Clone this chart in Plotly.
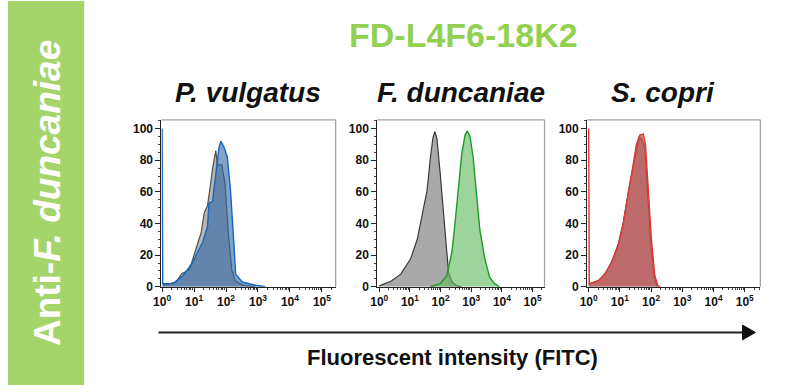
import plotly.graph_objects as go

# ---------------- data (x in log10 decades, y = % of max) ----------------
p1_ctrl_log = [0.03, 0.44, 0.60, 0.86, 1.06, 1.22, 1.32, 1.42, 1.53, 1.58, 1.68, 1.73, 1.87, 1.97, 2.07, 2.18, 2.28, 2.51, 2.92]
p1_ctrl_y   = [1, 3, 8, 11, 24, 34, 47, 51, 67, 75, 86, 77, 77, 65, 34, 11, 4, 1, 0]
p1_ab_log   = [0.0, 0.02, 0.34, 0.55, 0.65, 0.80, 0.96, 1.11, 1.27, 1.42, 1.47, 1.58, 1.68, 1.78, 1.84, 1.94, 2.04, 2.14, 2.25, 2.30, 2.51, 2.92, 3.23]
p1_ab_y     = [100, 2, 2, 5, 7, 11, 15.5, 22, 28, 38, 53, 54, 71, 88, 92, 88, 82, 61, 26, 8, 3, 1, 0]

p2_ctrl_log = [0.0, 0.38, 0.70, 1.02, 1.24, 1.40, 1.56, 1.67, 1.75, 1.81, 1.88, 1.99, 2.10, 2.18, 2.26, 2.37, 2.53, 2.69]
p2_ctrl_y   = [0.6, 3.5, 8, 17.5, 30, 45, 61, 82, 94, 98, 94, 71, 46, 24, 9, 3, 0.6, 0]
p2_ab_log   = [1.67, 1.99, 2.20, 2.37, 2.47, 2.58, 2.69, 2.80, 2.87, 2.96, 3.06, 3.17, 3.28, 3.44, 3.60, 3.76, 3.92]
p2_ab_y     = [0, 2, 7, 22, 40, 61, 84, 96, 98.5, 95, 82, 59, 36, 18, 6, 2, 0]

p3_ctrl_log = [0.0, 0.32, 0.53, 0.74, 0.95, 1.11, 1.27, 1.43, 1.53, 1.62, 1.70, 1.80, 1.88, 1.99, 2.10, 2.20]
p3_ctrl_y   = [1.5, 4, 8.5, 16, 27, 41, 60, 77, 88, 95, 93, 88, 62, 28, 6, 0]
p3_ab_log   = [0.0, 0.02, 0.32, 0.53, 0.74, 0.95, 1.11, 1.27, 1.43, 1.53, 1.64, 1.75, 1.82, 1.90, 2.01, 2.12, 2.22, 2.30]
p3_ab_y     = [100, 2, 4, 8, 15.5, 26, 40, 59, 75.5, 90, 96, 96.5, 90, 65, 30, 7, 0.5, 0]

species = ["P. vulgatus", "F. duncaniae", "S. copri"]
title_text = "FD-L4F6-18K2"
side_text = "Anti-<i>F. duncaniae</i>"
xlabel_text = "Fluorescent intensity (FITC)"
y_ticks = [0, 20, 40, 60, 80, 100]
x_tick_vals = [1, 10, 100, 1000, 10000, 100000]
x_tick_text = ["10<sup>0</sup>", "10<sup>1</sup>", "10<sup>2</sup>", "10<sup>3</sup>", "10<sup>4</sup>", "10<sup>5</sup>"]

# ---------------- styling ----------------
W, H = 795, 392
GREEN_BAR = "#a5d46b"
GREEN_TITLE = "#92d050"
panels = [
    dict(ctrl=(p1_ctrl_log, p1_ctrl_y), ab=(p1_ab_log, p1_ab_y),
         ab_line="#1565c0", ab_fill="rgba(45,100,165,0.6)",
         ctrl_line="#505050", ctrl_fill="rgba(120,120,120,0.55)",
         dom=(155, 331), xr=(-0.02, 5.43)),
    dict(ctrl=(p2_ctrl_log, p2_ctrl_y), ab=(p2_ab_log, p2_ab_y),
         ab_line="#1f9a2a", ab_fill="rgba(95,185,95,0.62)",
         ctrl_line="#3a3a3a", ctrl_fill="rgba(140,140,140,0.75)",
         dom=(373, 542), xr=(-0.065, 5.39)),
    dict(ctrl=(p3_ctrl_log, p3_ctrl_y), ab=(p3_ab_log, p3_ab_y),
         ab_line="#e53935", ab_fill="rgba(195,80,80,0.72)",
         ctrl_line="#404040", ctrl_fill="rgba(120,120,120,0.6)",
         dom=(585, 760), xr=(-0.05, 5.5)),
]
y_dom = ((H - 292) / H, (H - 122) / H)

fig = go.Figure()
minor_vals = [k * 10 ** d for d in range(6) for k in range(2, 10)]
shapes = []
tfont = dict(family="Liberation Sans, Arial", size=12, color="#111", weight="bold")
for i, p in enumerate(panels):
    xa = "x" if i == 0 else f"x{i+1}"
    ya = "y" if i == 0 else f"y{i+1}"
    cx, cy = p["ctrl"]
    ax_, ay_ = p["ab"]
    fig.add_trace(go.Scatter(x=[10 ** v for v in cx], y=cy, mode="lines", fill="tozeroy",
                             line=dict(color=p["ctrl_line"], width=1.2), fillcolor=p["ctrl_fill"],
                             xaxis=xa, yaxis=ya, showlegend=False, hoverinfo="skip"))
    fig.add_trace(go.Scatter(x=[10 ** v for v in ax_], y=ay_, mode="lines", fill="tozeroy",
                             line=dict(color=p["ab_line"], width=1.4), fillcolor=p["ab_fill"],
                             xaxis=xa, yaxis=ya, showlegend=False, hoverinfo="skip"))
    xkey = "xaxis" if i == 0 else f"xaxis{i+1}"
    ykey = "yaxis" if i == 0 else f"yaxis{i+1}"
    fig.update_layout(**{
        xkey: dict(type="log", domain=[p["dom"][0] / W, p["dom"][1] / W], range=list(p["xr"]),
                   anchor=ya, showgrid=False, zeroline=False, showline=True,
                   linecolor="#222", linewidth=1, ticks="outside", ticklen=4, tickwidth=1,
                   tickcolor="#222", tickvals=x_tick_vals, ticktext=x_tick_text,
                   tickfont=tfont,
                   minor=dict(tickvals=minor_vals, ticks="outside", ticklen=2, tickcolor="#444")),
        ykey: dict(domain=list(y_dom), range=[0, 105.5], anchor=xa, showgrid=False, zeroline=False,
                   showline=True, linecolor="#222", linewidth=1, ticks="outside", ticklen=5,
                   tickwidth=1, tickcolor="#222", tickvals=y_ticks,
                   tickfont=tfont,
                   minor=dict(dtick=5, ticks="outside", ticklen=2, tickcolor="#444")),
    })
    dref = f"{xa} domain"
    yref = f"{ya} domain"
    shapes.append(dict(type="line", xref=dref, yref=yref, x0=0, x1=1, y0=1, y1=1,
                       line=dict(color="#a0a0a0", width=1.3)))
    shapes.append(dict(type="line", xref=dref, yref=yref, x0=1, x1=1, y0=0, y1=1,
                       line=dict(color="#a0a0a0", width=1.3)))

# green side bar
shapes.append(dict(type="rect", xref="paper", yref="paper", x0=0, x1=77 / W, y0=0, y1=1 - 1 / H,
                   fillcolor=GREEN_BAR, line=dict(width=0), layer="below"))
# arrow
ay_px = 338.5
shapes.append(dict(type="line", xref="paper", yref="paper", x0=152 / W, x1=744 / W,
                   y0=1 - ay_px / H, y1=1 - ay_px / H, line=dict(color="#222", width=2)))
shapes.append(dict(type="path", xref="paper", yref="paper",
                   path=f"M {742 / W} {1 - (ay_px - 7.5) / H} L {755 / W} {1 - ay_px / H} "
                        f"L {742 / W} {1 - (ay_px + 7.5) / H} Z",
                   fillcolor="#111", line=dict(color="#111", width=1)))

annotations = [
    dict(text=side_text, x=40 / W, y=1 - 197 / H, xref="paper", yref="paper", showarrow=False,
         textangle=-90, font=dict(family="Liberation Sans, Arial", size=37, color="white", weight="bold"),
         xanchor="center", yanchor="middle"),
    dict(text=title_text, x=460 / W, y=1 - 36 / H, xref="paper", yref="paper", showarrow=False,
         font=dict(family="Liberation Sans, Arial", size=34, color=GREEN_TITLE, weight="bold"),
         xanchor="center", yanchor="middle"),
    dict(text=xlabel_text, x=449 / W, y=1 - 364 / H, xref="paper", yref="paper", showarrow=False,
         font=dict(family="Liberation Sans, Arial", size=22, color="#111", weight="bold"),
         xanchor="center", yanchor="middle"),
]
for name, cxp in zip(species, [242, 458, 662]):
    annotations.append(dict(text=f"<i>{name}</i>", x=cxp / W, y=1 - 94 / H, xref="paper", yref="paper",
                            showarrow=False, xanchor="center", yanchor="middle",
                            font=dict(family="Liberation Sans, Arial", size=28, color="#111", weight="bold")))

fig.update_layout(width=W, height=H, margin=dict(l=0, r=0, t=0, b=0),
                  paper_bgcolor="white", plot_bgcolor="white",
                  shapes=shapes, annotations=annotations)
fig.write_html("out.html", config={"displayModeBar": False},
               post_script="document.body.style.margin='0px';document.body.style.padding='0px';document.body.style.overflow='hidden';")
